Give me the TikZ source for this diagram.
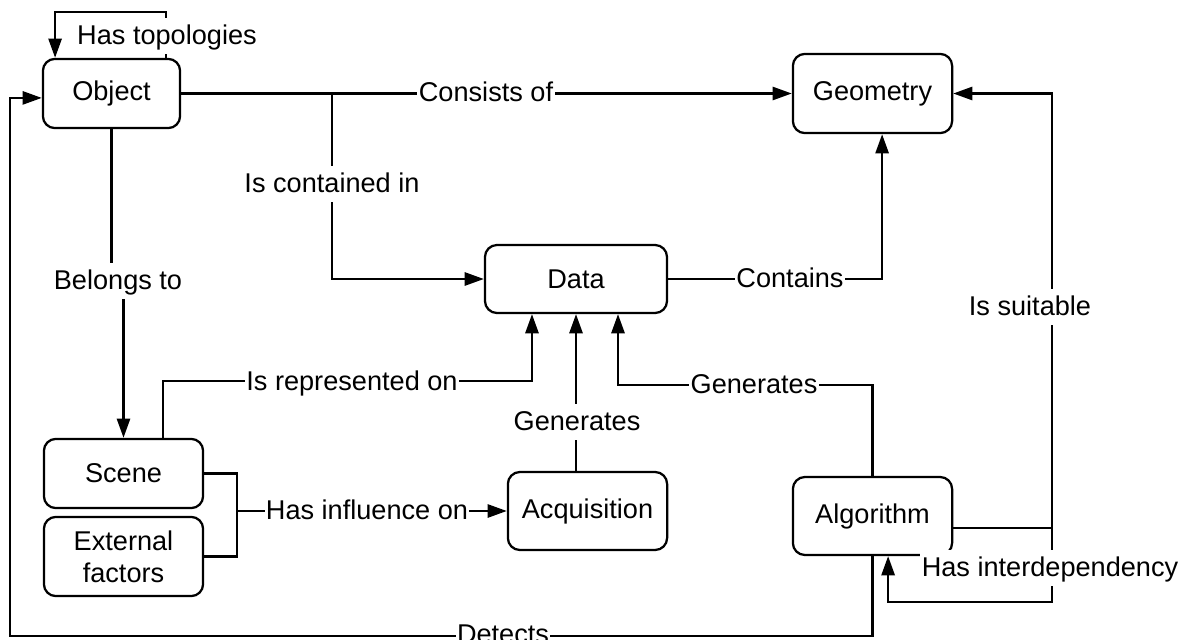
\documentclass[tikz,border=0pt]{standalone}
\usepackage{fontspec}
\setmainfont{Liberation Sans}
\usetikzlibrary{arrows.meta,positioning,calc}
\tikzset{
  box/.style={draw, rounded corners=0.3cm, minimum width=3.98cm, align=center,
    font=\fontsize{19.3}{22.8}\selectfont},
  lbl/.style={fill=white, inner xsep=1pt, inner ysep=2pt, text height=16.4pt, text depth=4.8pt,
    font=\fontsize{19.3}{22.8}\selectfont},
  arr/.style={-{Triangle[length=0.48cm,width=0.33cm]}},
  wire/.style={line width=1.6pt}
}

\begin{document}
\begin{tikzpicture}[x=0.025cm, y=-0.025cm, wire]
  \useasboundingbox (0,0) rectangle (1189,639);
  \node[box, minimum width=3.43cm, minimum height=1.73cm] (object) at (111.5,93.5) {Object};
  \node[box, minimum height=1.98cm] (geometry) at (872.5,93.5) {Geometry};
  \node[box, minimum width=4.55cm, minimum height=1.7cm] (data) at (576,279) {Data};
  \node[box, minimum height=1.73cm] (scene) at (123.5,473.5) {Scene};
  \node[box, minimum height=1.98cm] (external) at (123.5,556.5) {External\\factors};
  \node[box, minimum height=1.95cm] (acquisition) at (587.5,511) {Acquisition};
  \node[box, minimum height=1.95cm] (algorithm) at (872.5,516) {Algorithm};
  \coordinate (split) at (332,93.5);
  \coordinate (merge) at (237,511);

  \draw[arr] ([xshift=1.36cm]object.north) -- ++(0,-46) -| ([xshift=-1.41cm]object.north);
  \draw[arr] (object.east) -- (geometry.west);
  \draw[arr] (split) |- (data.west);
  \draw[arr] (object.south) -- ++(0,153) -| (scene.north);
  \draw[arr] ([xshift=0.99cm]scene.north) -- ++(0,-57) -| ([xshift=-1.1cm]data.south);
  \draw[arr] (acquisition.north -| data.south) -- (data.south);
  \draw[arr] (algorithm.north) -- ++(0,-91) -| ([xshift=1.05cm]data.south);
  \draw[arr] (data.east) -| ([xshift=0.24cm]geometry.south);
  \draw[arr] ([yshift=-0.3cm]algorithm.east) -- ++(99,0) |- (geometry.east);
  \draw[arr] ([yshift=-0.3cm]algorithm.east) ++(99,0) -- ++(0,74) -| ([xshift=0.39cm]algorithm.south);
  \draw[arr] (algorithm.south) -- ++(0,80) -| ([xshift=-0.8cm,yshift=-0.11cm]object.west)
    -- ([yshift=-0.11cm]object.west);
  \draw (scene.east) -| (merge);
  \draw (external.east) -| (merge);
  \draw[arr] (merge) -- (acquisition.west);

  \node[lbl] (lTopo) at (167,36) {Has topologies};
  \node[lbl] (lConsists) at (486,93.5) {Consists of};
  \node[lbl] (lContained) at (332,184) {Is contained in};
  \node[lbl] (lBelongs) at (118,281) {Belongs to};
  \node[lbl] (lRepresented) at (352,382) {Is represented on};
  \node[lbl] (lGenA) at (577,422) {Generates};
  \node[lbl] (lGenB) at (754,385) {Generates};
  \node[lbl] (lContains) at (790,279) {Contains};
  \node[lbl] (lSuitable) at (1030,307) {Is suitable};
  \node[lbl] (lInterdep) at (1050,568) {Has interdependency};
  \node[lbl] (lInfluence) at (367,511) {Has influence on};
  \node[lbl] (lDetects) at (503,635) {Detects};
\end{tikzpicture}
\end{document}
